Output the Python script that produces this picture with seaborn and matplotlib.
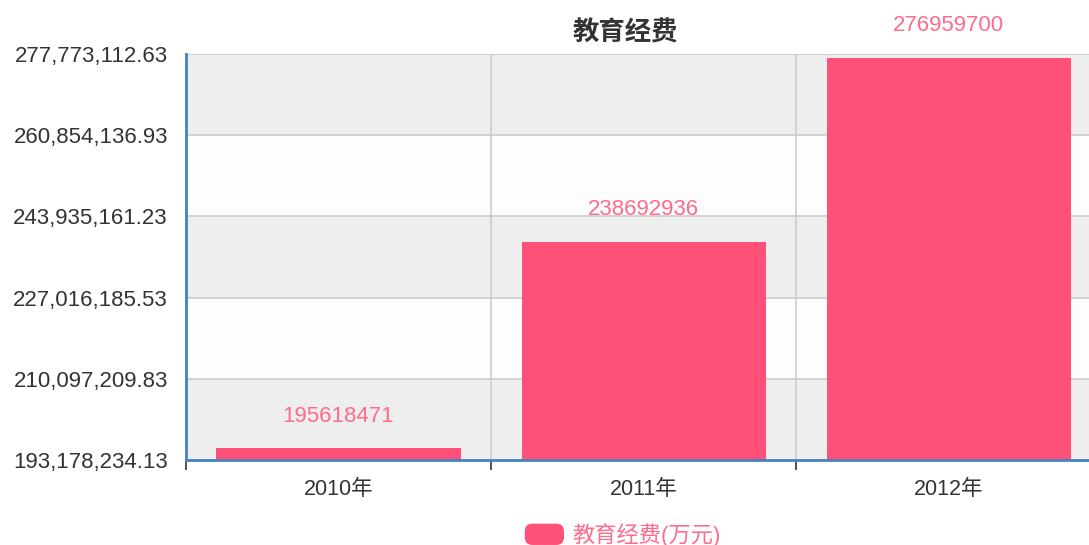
import matplotlib
matplotlib.use("Agg")
import matplotlib.pyplot as plt
import matplotlib.patches as mpatches
from matplotlib.legend_handler import HandlerPatch
import pandas as pd
import seaborn as sns

# data
years = ["2010年", "2011年", "2012年"]
spend = [195618471, 238692936, 276959700]
series_name = "教育经费(万元)"
title = "教育经费"
y_ticks = [193178234.13, 210097209.83, 227016185.53,
           243935161.23, 260854136.93, 277773112.63]

bar_color = "#ff5078"
label_color = "#ff6b8b"
axis_blue = "#4283c0"

sns.set_theme(style="white")
plt.rcParams["font.family"] = ["Liberation Sans", "Noto Sans CJK SC", "DejaVu Sans"]

df = pd.DataFrame({"year": years, "spend": spend})

W, H = 1089, 545
fig = plt.figure(figsize=(W / 100, H / 100), dpi=100)
ax = fig.add_axes([186 / W, 1 - 460 / H, (1101 - 186) / W, (460 - 54) / H])

sns.barplot(data=df, x="year", y="spend", color=bar_color, saturation=1,
            width=0.8, linewidth=0, ax=ax, zorder=3)

ax.set_ylim(y_ticks[0], y_ticks[-1])
ax.set_xlim(-0.5, 2.5)

# alternating bands, gray at the top
for i in range(len(y_ticks) - 1):
    c = "#eeeeee" if (len(y_ticks) - 2 - i) % 2 == 0 else "#fdfdfd"
    ax.axhspan(y_ticks[i], y_ticks[i + 1], color=c, zorder=0, lw=0)

ax.set_yticks(y_ticks)
ax.set_yticklabels([f"{v:,.2f}" for v in y_ticks], fontsize=16, color="#333333")
ax.yaxis.grid(True, color="#cccccc", lw=1.2, zorder=1)

ax.set_xticks(range(len(years)))
ax.set_xticklabels(years, fontsize=15.5, color="#333333")
ax.set_xticks([-0.5, 0.5, 1.5, 2.5], minor=True)
ax.xaxis.grid(True, which="minor", color="#cccccc", lw=1.2, zorder=1)
ax.tick_params(axis="x", which="major", length=0, pad=14)
ax.tick_params(axis="x", which="minor", length=7, width=1.2, color="#333333", bottom=True)
ax.tick_params(axis="y", length=0, pad=13)
ax.set_xlabel("")
ax.set_ylabel("")
ax.set_axisbelow(True)

for s in ["top", "right"]:
    ax.spines[s].set_visible(False)
for s in ["left", "bottom"]:
    ax.spines[s].set_color(axis_blue)
    ax.spines[s].set_linewidth(2)
    ax.spines[s].set_zorder(5)

for i, v in enumerate(spend):
    ax.annotate(str(v), (i, v), xytext=(0, 23), textcoords="offset points",
                ha="center", va="center", color=label_color, fontsize=16,
                annotation_clip=False)

fig.text(625 / W, 1 - 33 / H, title, ha="center", va="center",
         fontsize=19, fontweight="bold", color="#333333")


def rounded(legend, orig_handle, xdescent, ydescent, width, height, fontsize):
    return mpatches.FancyBboxPatch((-xdescent, -ydescent), width, height,
                                   boxstyle="round,pad=0,rounding_size=5",
                                   fc=bar_color, ec="none")


handle = mpatches.Patch(color=bar_color, label=series_name)
fig.legend(handles=[handle], loc="center", bbox_to_anchor=(623 / W, 1 - 535 / H),
           frameon=False, fontsize=16, labelcolor=label_color,
           handlelength=1.7, handleheight=1.0, handletextpad=0.4,
           handler_map={mpatches.Patch: HandlerPatch(patch_func=rounded)})

fig.savefig("out.png", dpi=100)
